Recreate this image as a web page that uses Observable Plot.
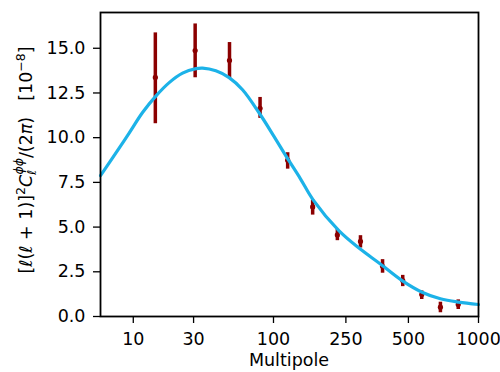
<!DOCTYPE html>
<html><head><meta charset="utf-8">
<script src="https://cdn.jsdelivr.net/npm/d3@7"></script>
<script src="https://cdn.jsdelivr.net/npm/@observablehq/plot@0.6"></script>
<style>body{margin:0;background:#fff} svg{display:block}</style>
</head><body><div id="chart"></div>
<script>
const binEll = [15.3, 30.8, 53.1, 83, 121, 167, 226, 296, 379, 471, 574, 693, 825];
const binVal = [13.37, 14.87, 14.32, 11.64, 8.74, 6.13, 4.56, 4.20, 2.81, 2.01, 1.23, 0.52, 0.67];
const binLo  = [10.78, 13.35, 13.31, 11.08, 8.24, 5.67, 4.24, 3.83, 2.42, 1.67, 0.95, 0.21, 0.39];
const binHi  = [15.86, 16.36, 15.32, 12.25, 9.16, 6.51, 4.87, 4.52, 3.18, 2.30, 1.43, 0.80, 0.93];
const modelEll = [5, 7, 9.2, 12, 15.5, 19.7, 24.9, 31.2, 34.8, 43, 52.8, 64.5, 82, 100, 120, 143, 168, 230, 293, 370, 468, 576, 693, 828, 1000];
const modelVal = [7.88, 9.15, 10.26, 11.41, 12.34, 13.08, 13.61, 13.86, 13.89, 13.74, 13.36, 12.68, 11.38, 10.12, 8.88, 7.70, 6.52, 4.80, 3.80, 2.94, 2.01, 1.36, 0.99, 0.80, 0.67];
const xTicks = [10, 30, 100, 250, 500, 1000];
const yTicks = [0, 2.5, 5, 7.5, 10, 12.5, 15];
const xLabel = "Multipole";

const bins = binEll.map((l, i) => ({l, v: binVal[i], lo: binLo[i], hi: binHi[i]}));
const model = modelEll.map((l, i) => ({l, v: modelVal[i]}));

const plot = Plot.plot({
  width: 500, height: 372,
  marginLeft: 100, marginRight: 22, marginTop: 12, marginBottom: 56,
  style: {fontFamily: "DejaVu Sans", fontSize: "17.5px", color: "black", background: "white", overflow: "visible"},
  x: {type: "pow", exponent: 0.165, domain: [5, 1000]},
  y: {domain: [0, 17]},
  marks: [
    Plot.ruleX(bins, {x: "l", y1: "lo", y2: "hi", stroke: "#8b0000", strokeWidth: 3.5}),
    Plot.dot(bins, {x: "l", y: "v", r: 2.6, fill: "#8b0000"}),
    Plot.line(model, {x: "l", y: "v", stroke: "#1cb2e8", strokeWidth: 3.2, curve: "catmull-rom"}),
    Plot.axisX({ticks: xTicks, tickFormat: d => String(d), tickSize: 7, tickPadding: 9, label: null, strokeWidth: 1.3}),
    Plot.axisY({ticks: yTicks, tickFormat: d => d.toFixed(1), tickSize: 7, tickPadding: 8, label: null, strokeWidth: 1.3}),
    Plot.frame({stroke: "black", strokeWidth: 1.8})
  ]
});
document.getElementById("chart").appendChild(plot);

const svg = d3.select(plot);
svg.append("text")
  .attr("x", 289).attr("y", 366)
  .attr("text-anchor", "middle")
  .attr("font-family", "DejaVu Sans").attr("font-size", 17.5).attr("fill", "black")
  .text(xLabel);

const yl = svg.append("text")
  .attr("transform", "translate(32,160) rotate(-90)")
  .attr("text-anchor", "middle")
  .attr("font-family", "DejaVu Sans").attr("font-size", 17.5).attr("fill", "black");
yl.append("tspan").text("[");
yl.append("tspan").attr("font-style", "italic").text("ℓ");
yl.append("tspan").text("(");
yl.append("tspan").attr("font-style", "italic").text("ℓ");
yl.append("tspan").text(" + 1)]");
yl.append("tspan").attr("font-size", 12.5).attr("dy", -7).text("2");
yl.append("tspan").attr("font-style", "italic").attr("dy", 7).text("C");
yl.append("tspan").attr("font-size", 12.5).attr("font-style", "italic").attr("dy", 4).text("ℓ");
yl.append("tspan").attr("font-size", 12.5).attr("font-style", "italic").attr("dx", -5).attr("dy", -13).text("ϕϕ");
yl.append("tspan").attr("dy", 9).text("/(2");
yl.append("tspan").attr("font-style", "italic").text("π");
yl.append("tspan").text(")");
yl.append("tspan").attr("dx", 16).text("[10");
yl.append("tspan").attr("font-size", 12.5).attr("dy", -7).text("−8");
yl.append("tspan").attr("dy", 7).text("]");
</script>
</body></html>
